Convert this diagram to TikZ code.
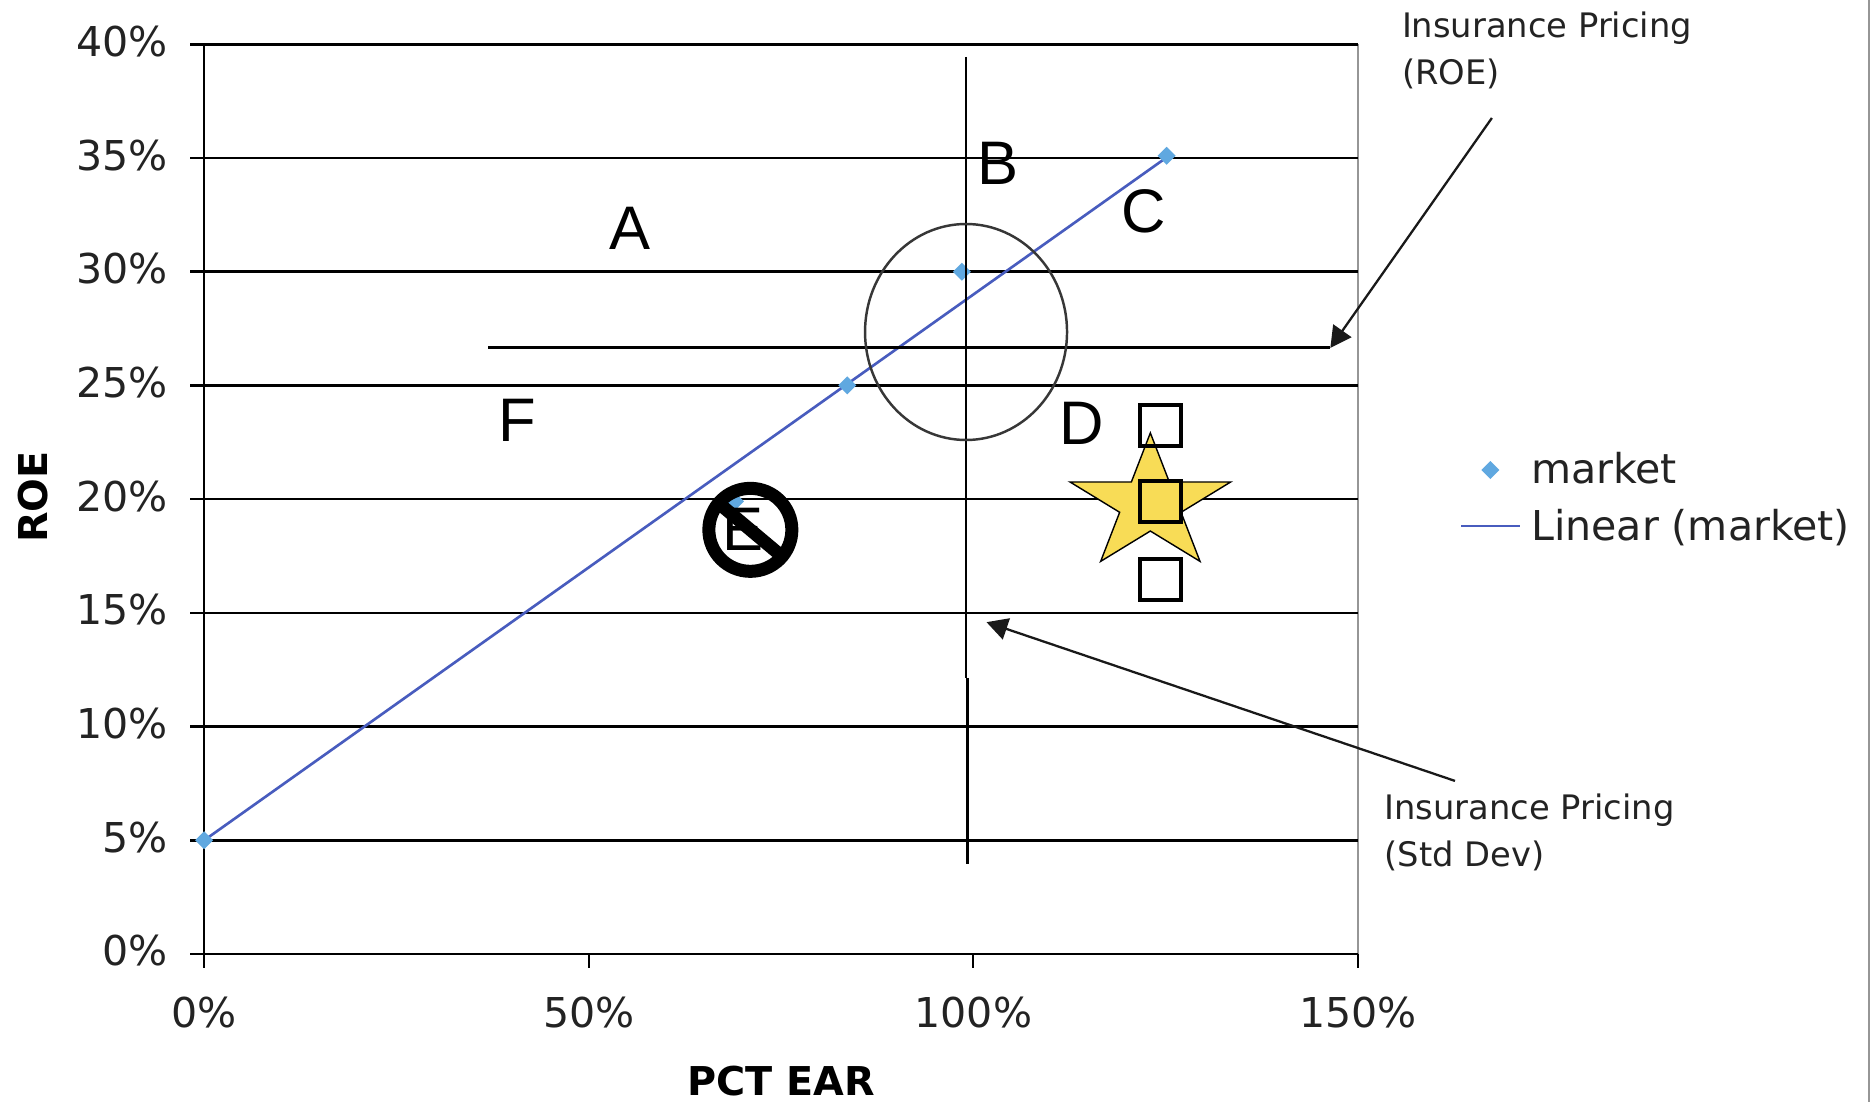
\documentclass[tikz,border=0pt]{standalone}
\usepackage{xcolor}
\usepackage{fontspec}
\setmainfont{DejaVu Sans}
\newfontfamily\zonefont{Liberation Sans}
\usepackage{tikz}
\usetikzlibrary{shapes.geometric,arrows.meta,calc}
\definecolor{trendblue}{RGB}{72,92,190}
\definecolor{markerblue}{RGB}{96,168,224}
\definecolor{staryellow}{RGB}{248,220,86}
\definecolor{framegray}{RGB}{150,150,150}
\definecolor{ringgray}{RGB}{55,55,55}
\definecolor{textgray}{RGB}{35,35,35}

\begin{document}
\begin{tikzpicture}[x=0.07692cm,y=0.2274cm,
every node/.append style={inner sep=0pt,outer sep=0pt},
gridln/.style={black,line width=0.75pt},
ticklbl/.style={text=textgray,font=\fontsize{11.7}{14}\selectfont},
axtitle/.style={text=black,font=\bfseries\fontsize{11.3}{13}\selectfont},
zonelbl/.style={font=\zonefont\fontsize{17.5}{20}\selectfont},
notelbl/.style={text=textgray,align=left,anchor=north west,font=\fontsize{9.6}{13.3}\selectfont},
notearrow/.style={-{Triangle[length=0.21cm,width=0.22cm]},line width=0.65pt,black!90},
marketpt/.style={diamond,fill=markerblue,minimum size=0.18cm},
boxmark/.style={draw,line width=1.15pt,minimum size=0.41cm}]
\fill[white] (-26.55,-6.508) rectangle (216.82,41.95);
\useasboundingbox (-26.55,-6.508) rectangle (216.82,41.95);
\draw[framegray,line width=0.5pt] (216.4,-6.508) -- (216.4,41.95);
\draw[framegray,line width=0.5pt] (150,0) -- (150,40);
\foreach \y in {0,5,...,40} {
  \draw[gridln] (-1.8,\y) -- (150,\y);
  \node[ticklbl,anchor=east] (ytick\y) at (-4.7,\y+0.13) {\y\%};
}
\foreach \x in {0,50,100,150} {
  \draw[gridln,line width=0.6pt] (\x,0) -- (\x,-0.6);
  \node[ticklbl] (xtick\x) at (\x,-2.57) {\x\%};
}
\draw[gridln,line width=0.6pt] (0,-0.6) -- (0,40);
\node[axtitle] (xtitle) at (75,-5.58) {PCT EAR};
\node[axtitle,rotate=90] (ytitle) at (-22.26,20.1) {ROE};

\draw[trendblue,line width=0.75pt] (0,5) -- (125,35);
\foreach \px/\py [count=\k] in {0/5,69/19.9,83.6/25,98.5/30,125.1/35.1}
  \node[marketpt] (mkt\k) at (\px,\py) {};

\coordinate (sdtop) at (99.04,39.45);
\coordinate (sdmid) at (99.04,12.14);
\coordinate (sdmidb) at (99.25,12.14);
\coordinate (sdbot) at (99.25,3.96);
\draw[black,line width=0.77pt] (sdtop) -- (sdmid);
\draw[black,line width=0.77pt] (sdmidb) -- (sdbot);
\coordinate (roeleft) at (36.9,26.65);
\coordinate (roeright) at (146.4,26.65);
\draw[black,line width=0.9pt] (roeleft) -- (roeright);
\node[ellipse,draw=ringgray,line width=0.7pt,minimum width=2.02cm,minimum height=2.16cm] (spread) at (99.04,27.35) {};

\node[zonelbl] (A) at (55.3,31.93) {A};
\node[zonelbl] (B) at (103.2,34.78) {B};
\node[zonelbl] (C) at (122.16,32.65) {C};
\node[zonelbl] (D) at (114.1,23.35) {D};
\node[zonelbl] (F) at (40.7,23.48) {F};
\node[zonelbl] (E) at (70.0,18.65) {E};
\coordinate (nosign) at (71.0,18.65);
\draw[line width=3.7pt] (nosign) circle [radius=0.415cm];
\draw[line width=3.7pt] ($(nosign)+(140:0.36cm)$) -- ($(nosign)+(-40:0.36cm)$);

\begin{scope}[shift={(123.0,19.79)},xscale=1.19]
\node[star,star points=5,star point ratio=2.618,minimum size=1.42cm,draw,fill=staryellow,line width=0.4pt,transform shape] (bonus) at (0,0) {};
\end{scope}
\node[boxmark] (sqtop) at (124.26,23.22) {};
\node[boxmark] (sqmid) at (124.26,19.88) {};
\node[boxmark] (sqbot) at (124.26,16.47) {};

\node[notelbl] (roenote) at (155.72,41.42) {Insurance Pricing\\(ROE)};
\node[notelbl] (sdnote) at (153.46,7.04) {Insurance Pricing\\(Std Dev)};
\coordinate (roefrom) at (167.4,36.76);
\coordinate (sdfrom) at (162.6,7.61);
\coordinate (sdtip) at (101.7,14.59);
\draw[notearrow] (roefrom) -- (roeright);
\draw[notearrow] (sdfrom) -- (sdtip);

\node[marketpt] (legmk) at (167.2,21.28) {};
\node[ticklbl,anchor=base west] (legmktxt) at (172.5,20.67) {market};
\coordinate (leglnA) at (163.4,18.82);
\coordinate (leglnB) at (171.0,18.82);
\draw[trendblue,line width=0.8pt] (leglnA) -- (leglnB);
\node[ticklbl,anchor=base west] (leglntxt) at (172.5,18.2) {Linear (market)};
\end{tikzpicture}
\end{document}
